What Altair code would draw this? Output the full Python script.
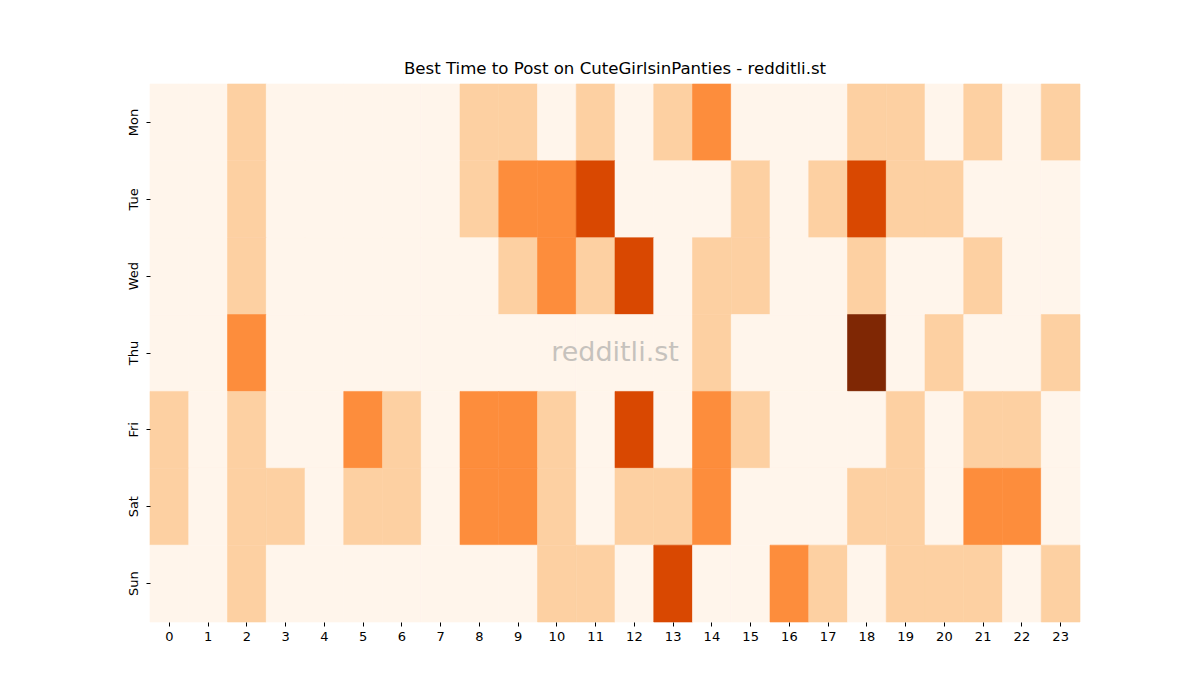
import altair as alt
import pandas as pd

days = ["Mon", "Tue", "Wed", "Thu", "Fri", "Sat", "Sun"]
hours = list(range(24))

# activity level per hour (0 = lowest, 4 = highest)
mon = [0, 0, 1, 0, 0, 0, 0, 0, 1, 1, 0, 1, 0, 1, 2, 0, 0, 0, 1, 1, 0, 1, 0, 1]
tue = [0, 0, 1, 0, 0, 0, 0, 0, 1, 2, 2, 3, 0, 0, 0, 1, 0, 1, 3, 1, 1, 0, 0, 0]
wed = [0, 0, 1, 0, 0, 0, 0, 0, 0, 1, 2, 1, 3, 0, 1, 1, 0, 0, 1, 0, 0, 1, 0, 0]
thu = [0, 0, 2, 0, 0, 0, 0, 0, 0, 0, 0, 0, 0, 0, 1, 0, 0, 0, 4, 0, 1, 0, 0, 1]
fri = [1, 0, 1, 0, 0, 2, 1, 0, 2, 2, 1, 0, 3, 0, 2, 1, 0, 0, 0, 1, 0, 1, 1, 0]
sat = [1, 0, 1, 1, 0, 1, 1, 0, 2, 2, 1, 0, 1, 1, 2, 0, 0, 0, 1, 1, 0, 2, 2, 0]
sun = [0, 0, 1, 0, 0, 0, 0, 0, 0, 0, 1, 1, 0, 3, 0, 0, 2, 1, 0, 1, 1, 1, 0, 1]

levels = [0, 1, 2, 3, 4]
palette = ["#fff5eb", "#fdd0a2", "#fd8d3c", "#d94801", "#7f2704"]

rows = []
for day, vals in zip(days, [mon, tue, wed, thu, fri, sat, sun]):
    for h, v in zip(hours, vals):
        rows.append({"day": day, "hour": h, "value": v})
df = pd.DataFrame(rows)

font = "DejaVu Sans"
cscale = alt.Scale(domain=levels, range=palette)

heat = (
    alt.Chart(df)
    .mark_rect(strokeWidth=0.6, opacity=1)
    .encode(
        x=alt.X(
            "hour:O",
            sort=hours,
            title=None,
            scale=alt.Scale(paddingInner=0, paddingOuter=0),
            axis=alt.Axis(labelAngle=0, domain=False, tickSize=4, labelFontSize=13,
                          labelFont=font, labelColor="#000", tickColor="#000", labelPadding=4),
        ),
        y=alt.Y(
            "day:O",
            sort=days,
            title=None,
            scale=alt.Scale(paddingInner=0, paddingOuter=0),
            axis=alt.Axis(labelAngle=270, domain=False, tickSize=4, labelFontSize=13,
                          labelFont=font, labelColor="#000", tickColor="#000",
                          labelAlign="center", labelBaseline="bottom", labelPadding=6),
        ),
        color=alt.Color("value:O", scale=cscale, legend=None),
        stroke=alt.Stroke("value:O", scale=cscale, legend=None),
    )
)

mark = (
    alt.Chart(pd.DataFrame({"t": ["redditli.st"]}))
    .mark_text(fontSize=27, font=font, color="#999999", opacity=0.55)
    .encode(text="t:N", x=alt.value(465), y=alt.value(269))
)

chart = (
    (heat + mark)
    .properties(
        width=930,
        height=538,
        title=alt.TitleParams("Best Time to Post on CuteGirlsinPanties - redditli.st",
                              font=font, fontSize=16.6, fontWeight="normal", color="#000", offset=6),
        autosize=alt.AutoSizeParams(type="none"),
        padding={"left": 142, "top": 76, "right": 100, "bottom": 60},
    )
    .configure_view(stroke=None)
)

chart.save("out.html", embed_options={"renderer": "svg", "actions": False})
